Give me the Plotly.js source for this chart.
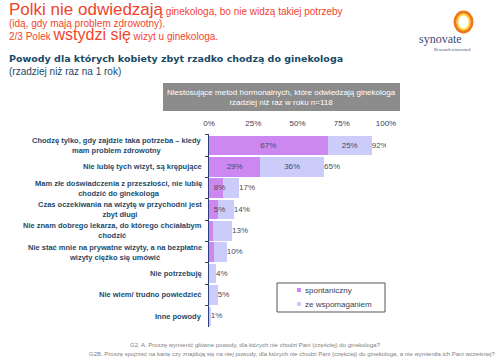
<!DOCTYPE html>
<html><head><meta charset="utf-8">
<script src="https://cdn.plot.ly/plotly-3.0.1.min.js"></script>
<style>html,body{margin:0;padding:0;background:#fff}#c{width:500px;height:361px}</style>
</head><body><div id="c"></div>
<script>
var categories = [
  "Chodzę tylko, gdy zajdzie taka potrzeba – kiedy<br>mam problem zdrowotny",
  "Nie lubię tych wizyt, są krępujące",
  "Mam złe doświadczenia z przeszłości, nie lubię<br>chodzić do ginekologa",
  "Czas oczekiwania na wizytę w przychodni jest<br>zbyt długi",
  "Nie znam dobrego lekarza, do którego chciałabym<br>chodzić",
  "Nie stać mnie na prywatne wizyty, a na bezpłatne<br>wizyty ciężko się umówić",
  "Nie potrzebuję",
  "Nie wiem/ trudno powiedzieć",
  "Inne powody"
];
var seriesNames = ["spontaniczny", "ze wspomaganiem"];
var spontaneous = [67, 29, 8, 5, 2, 3, 0, 0, 0];
var aided = [25, 36, 9, 9, 11, 7, 4, 5, 1];
var totals = [92, 65, 17, 14, 13, 10, 4, 5, 1];
var spontLabels = ["67%", "29%", "8%", "5%", "", "", "", "", ""];
var aidedLabels = ["25%", "36%", "", "", "", "", "", "", ""];
var tickVals = [0, 25, 50, 75, 100];
var tickText = ["0%", "25%", "50%", "75%", "100%"];

function px(x){return x/500;}
function py(y){return 1-y/361;}

var W = 500, H = 361;
var labelColor = "#1f4a6a";
var valColor = "#4a4a5a";
var colors = ["#cc88f0", "#ccccfa"];
var FONT = "Arial, Liberation Sans";

var traces = [
  {type:"bar", orientation:"h", name:seriesNames[0], y:categories, x:spontaneous,
   marker:{color:colors[0]}, hoverinfo:"skip", showlegend:false},
  {type:"bar", orientation:"h", name:seriesNames[1], y:categories, x:aided,
   marker:{color:colors[1]}, hoverinfo:"skip", showlegend:false},
  {type:"scatter", mode:"text", showlegend:false, y:categories,
   x:spontaneous.map(function(v){return Math.max(v/2, 6);}), text:spontLabels,
   textposition:"middle center", textfont:{family:FONT, size:8, color:valColor}, hoverinfo:"skip"},
  {type:"scatter", mode:"text", showlegend:false, y:categories,
   x:spontaneous.map(function(v,i){return v + aided[i]/2;}), text:aidedLabels,
   textposition:"middle center", textfont:{family:FONT, size:8, color:valColor}, hoverinfo:"skip"},
  {type:"scatter", mode:"text", showlegend:false, y:categories, x:totals,
   text:totals.map(function(v){return v+"%";}),
   textposition:"middle right", textfont:{family:FONT, size:8, color:valColor}, hoverinfo:"skip"}
];

var red = "#f0442c";
var ann = [];
ann.push({xref:"paper", yref:"paper", x:px(7), y:py(10), xanchor:"left", yanchor:"middle", showarrow:false,
  text:'<span style="font-size:17px">Polki nie odwiedzają</span> ginekologa, bo nie widzą takiej potrzeby',
  font:{family:FONT, size:10, color:red}});
ann.push({xref:"paper", yref:"paper", x:px(7), y:py(23), xanchor:"left", yanchor:"middle", showarrow:false,
  text:"(idą, gdy mają problem zdrowotny).", font:{family:FONT, size:10, color:red}});
ann.push({xref:"paper", yref:"paper", x:px(7), y:py(35), xanchor:"left", yanchor:"middle", showarrow:false,
  text:'2/3 Polek <span style="font-size:16px">wstydzi się</span> wizyt u ginekologa.',
  font:{family:FONT, size:10, color:red}});
ann.push({xref:"paper", yref:"paper", x:px(7), y:py(58), xanchor:"left", yanchor:"middle", showarrow:false,
  text:"<b>Powody dla których kobiety zbyt rzadko chodzą do ginekologa</b>",
  font:{family:"Verdana, DejaVu Sans", size:9.5, color:"#1a4a66"}});
ann.push({xref:"paper", yref:"paper", x:px(7), y:py(71), xanchor:"left", yanchor:"middle", showarrow:false,
  text:"(rzadziej niż raz na 1 rok)", font:{family:FONT, size:10, color:"#1a4a66"}});
ann.push({xref:"paper", yref:"paper", x:px(281), y:py(97), xanchor:"center", yanchor:"middle", showarrow:false,
  text:"Niestosujące metod hormonalnych, które odwiedzają ginekologa<br>rzadziej niż raz w roku n=118",
  font:{family:FONT, size:8, color:"#ffffff"}});
// logo text
ann.push({xref:"paper", yref:"paper", x:px(440), y:py(39), xanchor:"center", yanchor:"middle", showarrow:false,
  text:"synovate", font:{family:"Liberation Serif, Times New Roman", size:12, color:"#3a4a7a"}});
ann.push({xref:"paper", yref:"paper", x:px(452), y:py(49), xanchor:"center", yanchor:"middle", showarrow:false,
  text:"Research reinvented", font:{family:"Liberation Serif, Times New Roman", size:4.5, color:"#3a4a7a"}});
// footer
ann.push({xref:"paper", yref:"paper", x:px(255), y:py(345), xanchor:"center", yanchor:"middle", showarrow:false,
  text:"G2. A. Proszę wymienić główne powody, dla których nie chodzi Pani (częściej) do ginekologa?",
  font:{family:FONT, size:6, color:"#808080"}});
ann.push({xref:"paper", yref:"paper", x:px(497), y:py(354), xanchor:"right", yanchor:"middle", showarrow:false,
  text:"G2B. Proszę spojrzeć na kartę czy znajdują się na niej powody, dla których nie chodzi Pani (częściej) do ginekologa, a nie wymieniła ich Pani wcześniej?",
  font:{family:FONT, size:6, color:"#808080"}});
// legend texts
ann.push({xref:"paper", yref:"paper", x:px(303), y:py(290), xanchor:"left", yanchor:"middle", showarrow:false,
  text:seriesNames[0], font:{family:FONT, size:8, color:"#404050"}});
ann.push({xref:"paper", yref:"paper", x:px(303), y:py(304), xanchor:"left", yanchor:"middle", showarrow:false,
  text:seriesNames[1], font:{family:FONT, size:8, color:"#404050"}});
// category labels
categories.forEach(function(c){
  ann.push({xref:"paper", yref:"y", x:px(204), y:c, xanchor:"right", yanchor:"middle", align:"center", showarrow:false,
    text:"<b>"+c+"</b>", font:{family:FONT, size:7.5, color:labelColor}});
});

var layout = {
  width:W, height:H, margin:{l:0,r:0,t:0,b:0}, paper_bgcolor:"#fff", plot_bgcolor:"rgba(0,0,0,0)",
  barmode:"stack", bargap:0.08, showlegend:false,
  xaxis:{domain:[px(209), px(386)], range:[0,100], side:"top", showgrid:false, zeroline:false, showline:false,
    tickvals:tickVals, ticktext:tickText, ticks:"", ticklabelstandoff:5,
    tickfont:{family:FONT, size:8, color:"#404050"}, fixedrange:true},
  yaxis:{domain:[py(327), py(134)], autorange:"reversed", type:"category", showticklabels:false, showgrid:false, zeroline:false,
    showline:true, linecolor:"#2a3f7a", linewidth:1, ticks:"outside", ticklen:3, tickcolor:"#2a3f7a", tickson:"boundaries", fixedrange:true},
  shapes:[
    {type:"rect", xref:"paper", yref:"paper", x0:px(163), x1:px(400), y0:py(111), y1:py(83), fillcolor:"#8c8c8c", line:{width:0}},
    {type:"circle", xref:"paper", yref:"paper", x0:px(455), x1:px(472), y0:py(32), y1:py(12), line:{color:"#f07818", width:3}},
    {type:"circle", xref:"paper", yref:"paper", x0:px(457.5), x1:px(469.5), y0:py(29.5), y1:py(14.5), line:{color:"#ffd21e", width:1.5}},
    // legend box and swatches
    {type:"rect", xref:"paper", yref:"paper", x0:px(277), x1:px(385), y0:py(312), y1:py(283), fillcolor:"#fff", line:{color:"#555", width:1}},
    {type:"rect", xref:"paper", yref:"paper", x0:px(297), x1:px(301), y0:py(292), y1:py(288), fillcolor:colors[0], line:{width:0}},
    {type:"rect", xref:"paper", yref:"paper", x0:px(297), x1:px(301), y0:py(306), y1:py(302), fillcolor:colors[1], line:{width:0}}
  ],
  annotations:ann
};
Plotly.newPlot("c", traces, layout, {staticPlot:true, displayModeBar:false});
</script>
</body></html>
